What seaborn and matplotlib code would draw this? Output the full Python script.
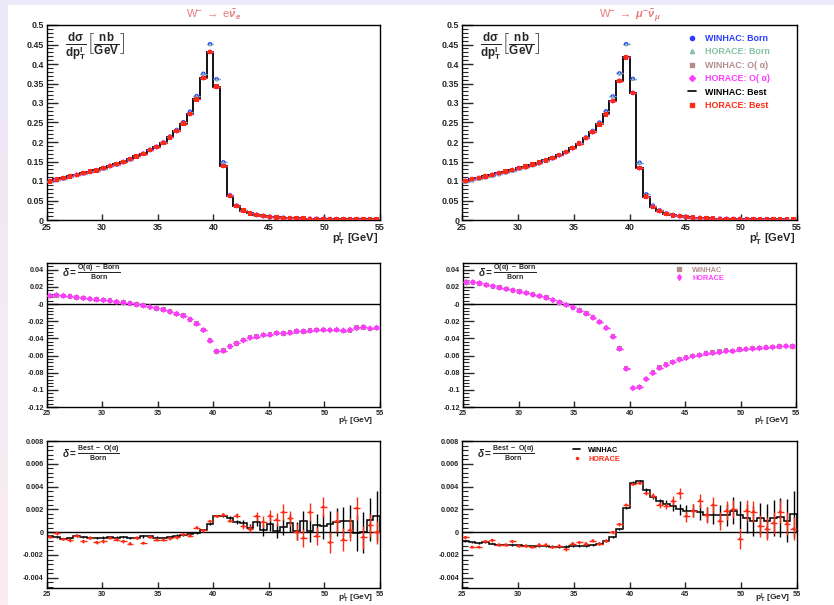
import numpy as np
import matplotlib
matplotlib.use('Agg')
import matplotlib.pyplot as plt
from matplotlib.lines import Line2D
from matplotlib.ticker import MultipleLocator, FuncFormatter
import seaborn as sns

# binning of the lepton pT histograms
pt_lo, pt_hi, n_bins = 25.0, 55.0, 50

# W -> e nu : dsigma/dpT [nb/GeV]
born_e = [0.098, 0.103, 0.106, 0.111, 0.115, 0.119, 0.123, 0.126, 0.132, 0.138,
          0.142, 0.148, 0.155, 0.163, 0.170, 0.180, 0.188, 0.199, 0.214, 0.231,
          0.251, 0.278, 0.318, 0.375, 0.451, 0.361, 0.148, 0.064, 0.037, 0.025,
          0.0178, 0.0135, 0.0105, 0.0083, 0.0067, 0.0057, 0.0047, 0.0041, 0.0036, 0.0031,
          0.0029, 0.0026, 0.0023, 0.0021, 0.0019, 0.0018, 0.0016, 0.0015, 0.0014, 0.0012]
best_e = [0.099, 0.104, 0.107, 0.112, 0.116, 0.120, 0.124, 0.127, 0.133, 0.139,
          0.143, 0.149, 0.156, 0.163, 0.170, 0.179, 0.187, 0.198, 0.212, 0.228,
          0.247, 0.272, 0.309, 0.364, 0.431, 0.342, 0.139, 0.062, 0.036, 0.024,
          0.017, 0.013, 0.010, 0.008, 0.0065, 0.0055, 0.0045, 0.004, 0.0035, 0.003,
          0.0028, 0.0025, 0.0022, 0.002, 0.0018, 0.0017, 0.0015, 0.0014, 0.0013, 0.0012]

# W -> mu nu
born_mu = [0.098, 0.1025, 0.1055, 0.1095, 0.1135, 0.1175, 0.122, 0.126, 0.131, 0.135,
           0.1405, 0.1455, 0.152, 0.158, 0.166, 0.174, 0.185, 0.1975, 0.212, 0.2285,
           0.250, 0.279, 0.317, 0.376, 0.451, 0.362, 0.147, 0.066, 0.037, 0.025,
           0.0172, 0.0129, 0.0102, 0.008, 0.0064, 0.0053, 0.0045, 0.0038, 0.0034, 0.003,
           0.0026, 0.0024, 0.0021, 0.0019, 0.0018, 0.0016, 0.0015, 0.0014, 0.0013, 0.0012]
best_mu = [0.1005, 0.105, 0.108, 0.112, 0.116, 0.120, 0.124, 0.128, 0.133, 0.137,
           0.142, 0.147, 0.153, 0.159, 0.166, 0.174, 0.184, 0.196, 0.210, 0.225,
           0.245, 0.271, 0.305, 0.357, 0.417, 0.326, 0.133, 0.060, 0.034, 0.023,
           0.016, 0.012, 0.0095, 0.0075, 0.006, 0.005, 0.0042, 0.0036, 0.0032, 0.0028,
           0.0025, 0.0023, 0.002, 0.0018, 0.0017, 0.0015, 0.0014, 0.0013, 0.0012, 0.0011]

# delta = (O(alpha) - Born) / Born
doa_e_horace = [0.0097, 0.0105, 0.0097, 0.0090, 0.0078, 0.0070, 0.0062, 0.0054, 0.0047, 0.0039,
                0.0027, 0.0019, 0.0008, -0.0004, -0.0016, -0.0035, -0.0050, -0.0066, -0.0089, -0.0113,
                -0.0136, -0.0179, -0.0229, -0.0303, -0.0427, -0.0551, -0.0544, -0.0493, -0.0458, -0.0423,
                -0.0392, -0.0380, -0.0361, -0.0357, -0.0338, -0.0342, -0.0334, -0.0315, -0.0318, -0.0310,
                -0.0303, -0.0299, -0.0303, -0.0299, -0.0308, -0.0300, -0.0280, -0.0268, -0.0284, -0.0276]
doa_e_winhac = [0.0097, 0.0104, 0.0097, 0.0089, 0.0078, 0.0070, 0.0061, 0.0054, 0.0047, 0.0039,
                0.0027, 0.0019, 0.0008, -0.0004, -0.0016, -0.0035, -0.0050, -0.0066, -0.0089, -0.0113,
                -0.0136, -0.0179, -0.0229, -0.0303, -0.0427, -0.0551, -0.0544, -0.0493, -0.0458, -0.0420,
                -0.0385, -0.0380, -0.0361, -0.0355, -0.0338, -0.0340, -0.0334, -0.0318, -0.0322, -0.0310,
                -0.0303, -0.0301, -0.0303, -0.0301, -0.0315, -0.0305, -0.0272, -0.0270, -0.0290, -0.0278]
doa_mu_horace = [0.0255, 0.0255, 0.0243, 0.0224, 0.0208, 0.0192, 0.0176, 0.0160, 0.0145, 0.0130,
                 0.0110, 0.0094, 0.0075, 0.0047, 0.0020, -0.0008, -0.0039, -0.0075, -0.0110, -0.0157,
                 -0.0208, -0.0278, -0.0380, -0.0520, -0.0753, -0.0980, -0.0969, -0.0875, -0.0804, -0.0745,
                 -0.0710, -0.0678, -0.0647, -0.0627, -0.0608, -0.0596, -0.0576, -0.0569, -0.0561, -0.0548,
                 -0.0549, -0.0530, -0.0525, -0.0520, -0.0514, -0.0506, -0.0502, -0.0494, -0.0490, -0.0494]
doa_mu_winhac = [0.0255, 0.0254, 0.0243, 0.0224, 0.0208, 0.0192, 0.0176, 0.0160, 0.0145, 0.0130,
                 0.0110, 0.0094, 0.0075, 0.0047, 0.0020, -0.0008, -0.0039, -0.0075, -0.0110, -0.0157,
                 -0.0208, -0.0278, -0.0376, -0.0518, -0.0750, -0.0978, -0.0967, -0.0873, -0.0800, -0.0742,
                 -0.0706, -0.0675, -0.0640, -0.0624, -0.0605, -0.0592, -0.0573, -0.0566, -0.0556, -0.0540,
                 -0.0545, -0.0527, -0.0522, -0.0512, -0.0510, -0.0503, -0.0500, -0.0492, -0.0488, -0.0492]

# delta = (Best - O(alpha)) / Born
dbest_e_winhac = [-0.00035, -0.00044, -0.00058, -0.0005, -0.00035, -0.00044, -0.0005, -0.0005, -0.00047, -0.00044,
                  -0.00047, -0.0004, -0.0005, -0.0005, -0.00038, -0.00038, -0.00047, -0.0005, -0.00044, -0.0003,
                  -0.00023, -0.0002, -0.0001, 0.0002, 0.0007, 0.0014, 0.00145, 0.00125, 0.0009, 0.0008,
                  0.0004, 0.0009, 0.0002, 0.0007, 0.0001, 0.00045, 0.0008, 0.0001, 0.001, 0.0001,
                  0.0006, 0.0005, 0.0007, 0.0009, 0.00095, 0.001, -0.00005, 0.0, 0.0011, 0.0014]
err_e_winhac = [0.00008, 0.00008, 0.00008, 0.00008, 0.00008, 0.00008, 0.00008, 0.00008, 0.00009, 0.00009,
                0.00009, 0.00009, 0.00009, 0.0001, 0.0001, 0.0001, 0.0001, 0.0001, 0.0001, 0.0001,
                0.0001, 0.0001, 0.0001, 0.0001, 0.0001, 0.0001, 0.00012, 0.00015, 0.0002, 0.00025,
                0.0003, 0.0004, 0.0005, 0.0006, 0.0006, 0.0007, 0.0008, 0.0008, 0.0009, 0.001,
                0.001, 0.0011, 0.0012, 0.0012, 0.0013, 0.0014, 0.0016, 0.0018, 0.0019, 0.0022]
dbest_e_horace = [-0.0004, -0.0001, -0.0006, -0.0007, -0.0003, -0.0008, -0.0005, -0.0009, -0.0008, -0.0005,
                  -0.00065, -0.0008, -0.001, -0.0005, -0.00095, -0.0004, -0.00065, -0.00065, -0.00055, -0.00045,
                  -0.0002, -0.0003, 0.0004, 0.00015, 0.00095, 0.0014, 0.00155, 0.001, 0.00145, 0.0005,
                  0.0003, 0.0014, 0.0009, 0.00145, 0.0011, 0.00175, 0.0012, 0.0, -0.0005, 0.00175,
                  -0.00035, 0.0022, -0.0009, 0.00095, -0.00065, 0.0002, 0.0021, -0.00045, 0.0006, 0.0]
err_e_horace = [0.00012, 0.00012, 0.00012, 0.00012, 0.00012, 0.00012, 0.00012, 0.00012, 0.00012, 0.00012,
                0.00012, 0.00012, 0.00012, 0.00012, 0.00012, 0.00012, 0.00012, 0.00012, 0.00012, 0.00012,
                0.00012, 0.00012, 0.00012, 0.00012, 0.0001, 0.0001, 0.0001, 0.00015, 0.0002, 0.00025,
                0.0003, 0.0004, 0.0005, 0.0005, 0.0006, 0.0007, 0.0007, 0.0007, 0.0008, 0.0008,
                0.0008, 0.0009, 0.0009, 0.0009, 0.001, 0.001, 0.001, 0.001, 0.001, 0.001]

dbest_mu_winhac = [-0.00074, -0.0009, -0.00095, -0.0009, -0.001, -0.0011, -0.0011, -0.0011, -0.00115, -0.00118,
                   -0.0012, -0.00118, -0.0012, -0.00127, -0.00127, -0.00127, -0.0012, -0.0012, -0.0012, -0.00115,
                   -0.001, -0.0008, -0.00045, 0.0003, 0.0021, 0.00435, 0.00445, 0.0037, 0.0031, 0.0027,
                   0.0025, 0.0023, 0.002, 0.0019, 0.0019, 0.0018, 0.00155, 0.00155, 0.0015, 0.0015,
                   0.0019, 0.0015, 0.0012, 0.001, 0.0012, 0.001, 0.00125, 0.0013, 0.001, 0.0016]
err_mu_winhac = [0.00008, 0.00008, 0.00008, 0.00008, 0.00008, 0.00008, 0.00008, 0.00008, 0.00009, 0.00009,
                 0.00009, 0.00009, 0.00009, 0.0001, 0.0001, 0.0001, 0.0001, 0.0001, 0.0001, 0.0001,
                 0.0001, 0.0001, 0.0001, 0.0001, 0.0001, 0.0001, 0.00012, 0.00015, 0.0002, 0.00025,
                 0.0003, 0.0004, 0.0005, 0.0005, 0.0006, 0.0007, 0.0007, 0.0008, 0.0009, 0.001,
                 0.0012, 0.0012, 0.0013, 0.0013, 0.0014, 0.0015, 0.0016, 0.0017, 0.0019, 0.002]
dbest_mu_horace = [-0.00045, -0.0013, -0.0013, -0.0008, -0.0007, -0.0011, -0.0011, -0.0008, -0.0012, -0.0012,
                   -0.0013, -0.0011, -0.0011, -0.0013, -0.0012, -0.0015, -0.001, -0.0009, -0.001, -0.00075,
                   -0.001, -0.00075, 0.0, 0.0007, 0.0024, 0.0042, 0.0043, 0.0034, 0.0032, 0.0024,
                   0.0023, 0.00275, 0.0034, 0.0014, 0.0019, 0.00275, 0.0015, 0.0024, 0.001, 0.0019,
                   0.002, -0.0006, 0.0019, 0.0018, 0.00055, 0.0003, 0.0008, 0.0018, 0.00075, 0.0003]
err_mu_horace = [0.00012, 0.00012, 0.00012, 0.00012, 0.00012, 0.00012, 0.00012, 0.00012, 0.00012, 0.00012,
                 0.00012, 0.00012, 0.00012, 0.00012, 0.00012, 0.00012, 0.00012, 0.00012, 0.00012, 0.00012,
                 0.00012, 0.00012, 0.00012, 0.00012, 0.0001, 0.0001, 0.0001, 0.00015, 0.0002, 0.00025,
                 0.0003, 0.0004, 0.0005, 0.0005, 0.0006, 0.0006, 0.0007, 0.0007, 0.0008, 0.0008,
                 0.0008, 0.0009, 0.0009, 0.0009, 0.001, 0.001, 0.001, 0.001, 0.001, 0.001]

titles = [r'W$^{-}$ $\rightarrow$ e$\bar{\nu}_{e}$', r'W$^{-}$ $\rightarrow$ $\mu^{-}\bar{\nu}_{\mu}$']
top_legend = ['WINHAC: Born', 'HORACE: Born', 'WINHAC: O( α)', 'HORACE: O( α)',
              'WINHAC: Best', 'HORACE: Best']

BLUE, TEAL, BROWN, MAGENTA, RED = '#2a3cff', '#86c0a6', '#b48c8c', '#ff3cff', '#ff2a14'
TITLE_C = '#e57c7c'

sns.set_theme(style='ticks')
plt.rcParams['font.family'] = ['Liberation Sans', 'DejaVu Sans']
plt.rcParams['font.weight'] = 'bold'
plt.rcParams['mathtext.fontset'] = 'custom'
plt.rcParams['mathtext.rm'] = 'Liberation Sans'
plt.rcParams['mathtext.bf'] = 'Liberation Sans:bold'
plt.rcParams['mathtext.it'] = 'Liberation Sans:italic'

edges = np.linspace(pt_lo, pt_hi, n_bins + 1)
centers = 0.5 * (edges[:-1] + edges[1:])
half_w = 0.5 * (edges[1] - edges[0])

fig = plt.figure(figsize=(8.34, 6.05), dpi=100)
fig.patch.set_facecolor('white')

# slide frame: lavender top band and a pale left band
band = fig.add_axes([0, 0, 8 / 834, 1])
band.imshow(np.linspace(0, 1, 100)[:, None], aspect='auto', extent=(0, 1, 0, 1),
            cmap=matplotlib.colors.LinearSegmentedColormap.from_list('b', ['#ebe8f8', '#fbecf1']))
band.axis('off')
topband = fig.add_axes([0, 1 - 5 / 605, 1, 5 / 605])
topband.axis('off')
topband.add_patch(plt.Rectangle((0, 0), 1, 1, color='#eceaf8', transform=topband.transAxes))

W, H = 834.0, 605.0
def px_axes(x0, x1, y0, y1):
    return fig.add_axes([x0 / W, 1 - y1 / H, (x1 - x0) / W, (y1 - y0) / H])

ax_top = [px_axes(46.7, 380, 25, 220), px_axes(462, 797, 25, 220)]
ax_mid = [px_axes(46.7, 380, 263, 407), px_axes(463, 796, 263, 407)]
ax_bot = [px_axes(46.7, 380, 441, 588), px_axes(462, 797, 441, 588)]


def style_axes(ax, ylim, major, minor, zero_label, lsize):
    ax.set_xlim(pt_lo, pt_hi)
    ax.set_ylim(*ylim)
    ax.xaxis.set_major_locator(MultipleLocator(5))
    ax.yaxis.set_major_locator(MultipleLocator(major))
    ax.yaxis.set_minor_locator(MultipleLocator(minor))
    ax.yaxis.set_major_formatter(FuncFormatter(
        lambda v, _: zero_label if abs(v) < 1e-12 else f'{v:g}'))
    ax.tick_params(axis='y', which='major', direction='in', length=8, width=1,
                   labelsize=lsize, pad=2, right=False)
    ax.tick_params(axis='y', which='minor', direction='in', length=4.3, width=0.8, right=False)
    ax.tick_params(axis='x', which='major', direction='in', length=4, width=1,
                   labelsize=lsize, pad=2.5, top=False)
    for s in ax.spines.values():
        s.set_linewidth(1.0)
        s.set_color('black')
    for lab in ax.get_xticklabels() + ax.get_yticklabels():
        lab.set_fontweight('bold')


def marker_series(ax, x, y, color, marker, ms, yerr=None, z=3):
    ax.errorbar(x, y, xerr=half_w, yerr=yerr, fmt='none', ecolor=color, elinewidth=0.9, zorder=z)
    sns.scatterplot(x=x, y=y, ax=ax, color=color, marker=marker, s=ms, edgecolor='none',
                    linewidth=0, zorder=z + 0.1, legend=False)


# top panels: differential cross sections
for ax, born, best, title in zip(ax_top, [born_e, born_mu], [best_e, best_mu], titles):
    ax.stairs(best, edges, color='black', lw=1.3, zorder=2)
    marker_series(ax, centers, born, BLUE, 'o', 10)
    marker_series(ax, centers, born, TEAL, '^', 8)
    marker_series(ax, centers, best, BROWN, 's', 8)
    marker_series(ax, centers, best, MAGENTA, 'D', 9)
    marker_series(ax, centers, best, RED, 's', 10)
    style_axes(ax, (0, 0.5), 0.05, 0.01, '0', 6.4)
    ax.set_title(title, color=TITLE_C, fontsize=8, fontweight='normal', pad=5)
    ax.text(0.055, 0.89, r'$\mathbf{\frac{d\sigma}{dp^{l}_{T}}}\left[\mathbf{\frac{nb}{GeV}}\right]$',
            transform=ax.transAxes, fontsize=12, va='center', ha='left')
    ax.text(0.995, -0.095, r'$\mathbf{p^{l}_{T}}$ [GeV]', transform=ax.transAxes,
            fontsize=8, ha='right', va='center')

h = [Line2D([], [], marker='o', ls='none', color=BLUE, ms=3),
     Line2D([], [], marker='^', ls='none', color=TEAL, ms=3),
     Line2D([], [], marker='s', ls='none', color=BROWN, ms=3),
     Line2D([], [], marker='D', ls='none', color=MAGENTA, ms=3),
     Line2D([], [], color='black', lw=1.2),
     Line2D([], [], marker='s', ls='none', color=RED, ms=3)]
ax_top[1].legend(h, top_legend, loc='upper left', bbox_to_anchor=(0.676, 0.955), frameon=False,
                 labelcolor='linecolor', prop=dict(size=6.4, weight='bold'), handlelength=0.8,
                 handletextpad=1.1, labelspacing=0.5, borderpad=0, borderaxespad=0)

# middle panels: O(alpha) corrections
for ax, dw, dh in zip(ax_mid, [doa_e_winhac, doa_mu_winhac], [doa_e_horace, doa_mu_horace]):
    ax.axhline(0, color='black', lw=1.0, zorder=1)
    marker_series(ax, centers, dw, BROWN, 's', 11, yerr=0.0009)
    marker_series(ax, centers, dh, MAGENTA, 'D', 11, yerr=0.0009, z=4)
    style_axes(ax, (-0.12, 0.048), 0.02, 0.004, '-0', 5.2)
    ax.text(0.045, 0.935, r'$\delta = \frac{\mathbf{O(\alpha)\ -\ Born}}{\mathbf{Born}}$',
            transform=ax.transAxes, fontsize=7.2, va='center', ha='left')
    ax.text(0.98, -0.097, r'$\mathbf{p^{l}_{T}}$ [GeV]', transform=ax.transAxes,
            fontsize=6, ha='right', va='center')

hm = [Line2D([], [], marker='s', ls='none', color=BROWN, ms=3),
      Line2D([], [], marker='d', ls='none', color=MAGENTA, ms=3)]
ax_mid[1].legend(hm, ['WINHAC', 'HORACE'], loc='upper left', bbox_to_anchor=(0.64, 0.974),
                 frameon=False, labelcolor='linecolor', prop=dict(size=5.3, weight='bold'),
                 handlelength=0.8, handletextpad=1.4, labelspacing=0.12, borderpad=0,
                 borderaxespad=0)

# bottom panels: Best - O(alpha)
for ax, dw, ew, dh, eh in zip(ax_bot, [dbest_e_winhac, dbest_mu_winhac], [err_e_winhac, err_mu_winhac],
                              [dbest_e_horace, dbest_mu_horace], [err_e_horace, err_mu_horace]):
    ax.axhline(0, color='black', lw=1.0, zorder=1)
    ax.stairs(dw, edges, color='black', lw=1.1, zorder=2)
    ax.errorbar(centers, dw, yerr=ew, fmt='none', ecolor='black', elinewidth=1.0, zorder=2)
    ax.errorbar(centers, dh, xerr=half_w, yerr=eh, fmt='none', ecolor=RED, elinewidth=1.0, zorder=3)
    sns.scatterplot(x=centers, y=dh, ax=ax, color=RED, s=4, edgecolor='none', zorder=3.1, legend=False)
    style_axes(ax, (-0.0049, 0.008), 0.002, 0.0004, '0', 5.3)
    ax.text(0.045, 0.915, r'$\delta = \frac{\mathbf{Best\ -\ O(\alpha)}}{\mathbf{Born}}$',
            transform=ax.transAxes, fontsize=7.2, va='center', ha='left')
    ax.text(0.98, -0.072, r'$\mathbf{p^{l}_{T}}$ [GeV]', transform=ax.transAxes,
            fontsize=6, ha='right', va='center')

hb = [Line2D([], [], color='black', lw=1.2),
      Line2D([], [], marker='.', ls='none', color=RED, ms=3)]
ax_bot[1].legend(hb, ['WINHAC', 'HORACE'], loc='upper left', bbox_to_anchor=(0.331, 0.961),
                 frameon=False, labelcolor='linecolor', prop=dict(size=5.3, weight='bold'),
                 handlelength=1.0, handletextpad=1.1, labelspacing=0.25, borderpad=0,
                 borderaxespad=0)

fig.savefig('out.png', dpi=100, facecolor='white')
